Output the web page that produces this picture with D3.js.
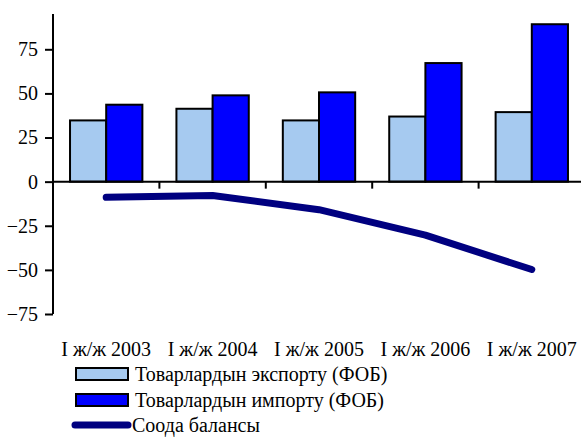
<!DOCTYPE html>
<html><head><meta charset="utf-8">
<script src="https://cdn.jsdelivr.net/npm/d3@7/dist/d3.min.js"></script>
<style>
html,body{margin:0;padding:0;background:#fff;}
svg{display:block;}
svg text{font-family:"Liberation Serif";}
</style></head>
<body><svg id="c" width="581" height="438"></svg>
<script>
const categories = ["I ж/ж 2003","I ж/ж 2004","I ж/ж 2005","I ж/ж 2006","I ж/ж 2007"];
const exportValues = [34.7, 41.3, 34.7, 36.9, 39.4];
const importValues = [43.6, 48.9, 50.6, 67.2, 89.2];
const balanceValues = [-8.9, -7.8, -15.9, -30.3, -49.8];
const yTicks = [-75, -50, -25, 0, 25, 50, 75];
const seriesNames = ["Товарлардын экспорту (ФОБ)", "Товарлардын импорту (ФОБ)", "Соода балансы"];
const colors = {exp:"#a6caf0", imp:"#0000ff", bal:"#000080"};
const FONT = "Liberation Serif";
const FS = 20;

const svg = d3.select("#c");
const x0 = 53, xStep = 106.4;
const x = d3.scaleBand().domain(categories).range([x0, x0 + xStep*5]).paddingInner(0.32).paddingOuter(0.16);
const xc = d3.scaleBand().domain(categories).range([x0, x0 + xStep*5]);
const y = d3.scaleLinear().domain([-75, 95]).range([314, 14]);
const bw = x.bandwidth()/2;

// bars
const g = svg.append("g");
g.selectAll("rect.exp").data(exportValues).join("rect")
  .attr("x",(d,i)=>x(categories[i])).attr("width",bw)
  .attr("y",d=>y(d)).attr("height",d=>y(0)-y(d))
  .attr("fill",colors.exp).attr("stroke","#000").attr("stroke-width",2);
g.selectAll("rect.imp").data(importValues).join("rect")
  .attr("x",(d,i)=>x(categories[i])+bw).attr("width",bw)
  .attr("y",d=>y(d)).attr("height",d=>y(0)-y(d))
  .attr("fill",colors.imp).attr("stroke","#000").attr("stroke-width",2);

// y axis
const ya = svg.append("g").attr("transform",`translate(${x0},0)`)
  .call(d3.axisLeft(y).tickValues(yTicks).tickSize(8).tickPadding(7).tickFormat(d3.format("d")));
ya.attr("font-family", FONT);
ya.select(".domain").attr("stroke","#000").attr("stroke-width",2).attr("d",`M0,${y(95)}V${y(-75)}`);
ya.selectAll(".tick line").attr("stroke","#000").attr("stroke-width",2);
ya.selectAll(".tick text").attr("font-size",FS).style("font-family",FONT).attr("fill","#000");

// x axis at zero
const xa = svg.append("g").attr("transform",`translate(0,${y(0)})`);
xa.append("line").attr("x1",x0).attr("x2",581).attr("stroke","#000").attr("stroke-width",2);
xa.selectAll("line.t").data(categories.slice(1)).join("line")
  .attr("x1",d=>xc(d)).attr("x2",d=>xc(d)).attr("y1",0).attr("y2",7)
  .attr("stroke","#000").attr("stroke-width",2);

// x labels
svg.selectAll("text.xl").data(categories).join("text")
  .attr("x",d=>xc(d)+xc.bandwidth()/2).attr("y",356)
  .attr("text-anchor","middle").attr("font-size",FS).style("font-family",FONT).text(d=>d);

// balance line
const line = d3.line().x((d,i)=>xc(categories[i])+xc.bandwidth()/2).y(d=>y(d));
svg.append("path").datum(balanceValues).attr("d",line)
  .attr("fill","none").attr("stroke",colors.bal).attr("stroke-width",7)
  .attr("stroke-linecap","round").attr("stroke-linejoin","round");

// legend
const lg = svg.append("g");
lg.append("rect").attr("x",76).attr("y",368).attr("width",52).attr("height",12)
  .attr("fill",colors.exp).attr("stroke","#000").attr("stroke-width",2);
lg.append("rect").attr("x",76).attr("y",394).attr("width",52).attr("height",12)
  .attr("fill",colors.imp).attr("stroke","#000").attr("stroke-width",2);
lg.append("line").attr("x1",75).attr("x2",128).attr("y1",425).attr("y2",425)
  .attr("stroke",colors.bal).attr("stroke-width",7).attr("stroke-linecap","round");
const lx = [135,135,132], ly=[381,407,432];
lg.selectAll("text").data(seriesNames).join("text")
  .attr("x",(d,i)=>lx[i]).attr("y",(d,i)=>ly[i]).attr("font-size",FS).style("font-family",FONT).text(d=>d);
</script></body></html>
